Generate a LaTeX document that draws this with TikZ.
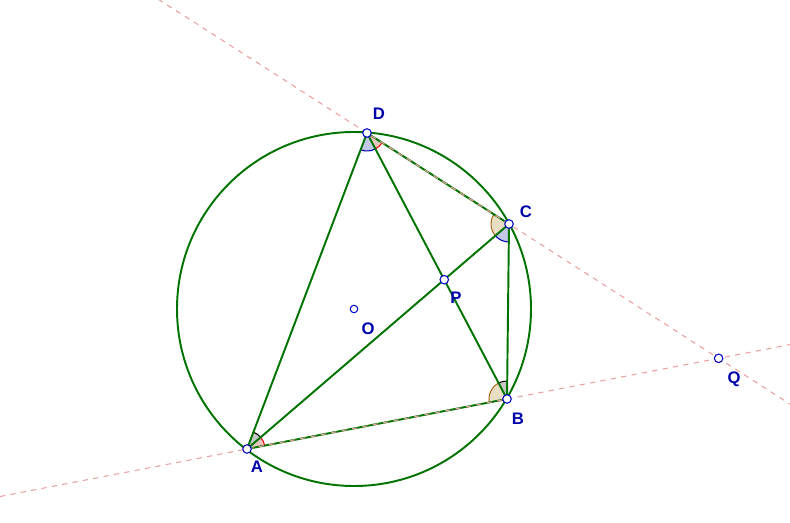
\documentclass[tikz,border=0pt]{standalone}
\usepackage{fontspec}
\setmainfont{Liberation Sans}
\usetikzlibrary{calc, angles}

\definecolor{geogreen}{RGB}{0,115,0}
\definecolor{ptblue}{RGB}{0,0,200}
\definecolor{lblblue}{RGB}{0,0,170}
\definecolor{dashpink}{RGB}{235,160,160}
\definecolor{tanfill}{RGB}{232,222,196}
\definecolor{tanedge}{RGB}{170,110,30}
\definecolor{bluefill}{RGB}{196,200,232}
\definecolor{redfill}{RGB}{236,196,196}
\definecolor{grayfill}{RGB}{200,200,200}

\begin{document}
\begin{tikzpicture}[x=0.02cm, y=-0.02cm,
    seg/.style = {draw=geogreen, line width=1.1pt},
    ext/.style = {draw=dashpink, line width=0.6pt, dash pattern=on 3pt off 3pt},
    pt/.style = {draw=ptblue, fill=white, circle, inner sep=0pt, minimum size=0.17cm, line width=0.6pt},
    lbl/.style = {text=lblblue, inner sep=0pt, font=\fontsize{9.5}{11}\selectfont\bfseries},
    anglemark/.style = {draw, line width=0.6pt, angle radius=0.36cm}]
    \useasboundingbox (0,0) rectangle (790,523);

    \coordinate (O) at (354,309);
    \coordinate (A) at (247,449);
    \coordinate (B) at (507,399);
    \coordinate (C) at (509,224);
    \coordinate (D) at (367,133);
    \coordinate (P) at (intersection of A--C and B--D);
    \coordinate (Q) at (intersection of A--B and D--C);
    \coordinate (AB0) at ($(A)!-0.95!(B)$);
    \coordinate (AB1) at ($(A)!2.09!(B)$);
    \coordinate (DC0) at ($(D)!-1.47!(C)$);
    \coordinate (DC1) at ($(D)!2.98!(C)$);

    % angle marks
    \pic[anglemark, draw=blue!70!black, fill=bluefill] {angle = A--D--B};
    \pic[anglemark, draw=red, fill=redfill] {angle = B--D--C};
    \pic[anglemark, draw=tanedge, fill=tanfill] {angle = D--C--A};
    \pic[anglemark, draw=blue!70!black, fill=bluefill] {angle = A--C--B};
    \pic[anglemark, draw=tanedge, fill=tanfill] {angle = D--B--A};
    \pic[anglemark, draw=black, fill=grayfill] {angle = C--B--D};
    \pic[anglemark, draw=red, fill=redfill] {angle = B--A--C};
    \pic[anglemark, draw=black, fill=grayfill] {angle = C--A--D};

    \draw[seg] (O) circle[radius=177];
    \draw[seg] (A) -- (B) -- (C) -- (D) -- (A);
    \draw[seg] (A) -- (C);
    \draw[seg] (B) -- (D);

    \draw[ext] (AB0) -- (AB1);
    \draw[ext] (DC0) -- (DC1);

    \node[pt] (pA) at (A) {};
    \node[pt] (pB) at (B) {};
    \node[pt] (pC) at (C) {};
    \node[pt] (pD) at (D) {};
    \node[pt] (pP) at (P) {};
    \node[pt] (pQ) at (Q) {};
    \node[pt, minimum size=0.15cm] (pO) at (O) {};

    \node[lbl] (lA) at (257,467) {A};
    \node[lbl] (lB) at (518,419) {B};
    \node[lbl] (lC) at (526,212) {C};
    \node[lbl] (lD) at (379,114) {D};
    \node[lbl] (lP) at (456,298) {P};
    \node[lbl] (lO) at (368,329) {O};
    \node[lbl] (lQ) at (734,379) {Q};
\end{tikzpicture}
\end{document}
